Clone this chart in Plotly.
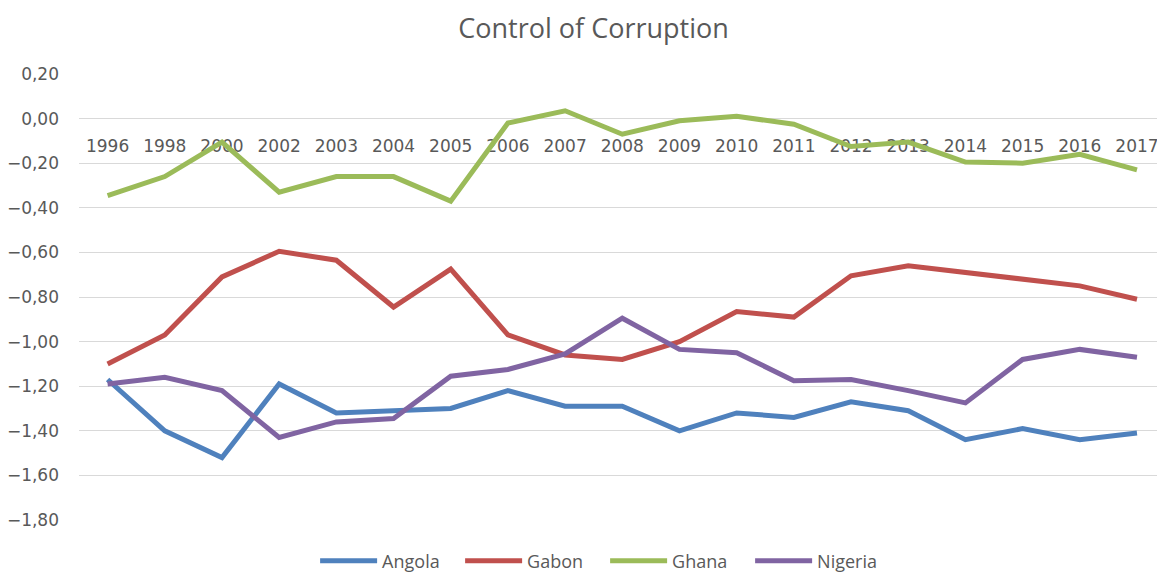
import plotly.graph_objects as go

years = ["1996", "1998", "2000", "2002", "2003", "2004", "2005", "2006", "2007", "2008",
         "2009", "2010", "2011", "2012", "2013", "2014", "2015", "2016", "2017"]

angola = [-1.17, -1.40, -1.52, -1.19, -1.32, -1.31, -1.30, -1.22, -1.29, -1.29,
          -1.40, -1.32, -1.34, -1.27, -1.31, -1.44, -1.39, -1.44, -1.41]
gabon = [-1.10, -0.97, -0.71, -0.595, -0.635, -0.845, -0.675, -0.97, -1.06, -1.08,
         -1.00, -0.865, -0.89, -0.705, -0.66, -0.69, -0.715, -0.75, -0.81]
ghana = [-0.345, -0.26, -0.105, -0.33, -0.26, -0.26, -0.37, -0.02, 0.035, -0.07,
         -0.01, 0.01, -0.025, -0.125, -0.105, -0.195, -0.20, -0.16, -0.23]
nigeria = [-1.19, -1.16, -1.22, -1.43, -1.36, -1.345, -1.155, -1.125, -1.055, -0.895,
           -1.035, -1.05, -1.175, -1.17, -1.22, -1.275, -1.08, -1.035, -1.07]

series = [("Angola", angola, "#4F81BD"), ("Gabon", gabon, "#C0504D"),
          ("Ghana", ghana, "#9BBB59"), ("Nigeria", nigeria, "#8064A2")]

fig = go.Figure()
for name, vals, col in series:
    fig.add_trace(go.Scatter(x=years, y=vals, name=name, mode="lines",
                             line=dict(color=col, width=5)))

fig.update_layout(
    width=1157, height=573,
    margin=dict(l=79, r=0, t=74, b=53),
    paper_bgcolor="white", plot_bgcolor="white",
    separators=",.",
    title=dict(text="Control of Corruption", x=0.513, xanchor="center", y=0.951, yanchor="middle",
               font=dict(family="Open Sans", size=27, color="#595959")),
    xaxis=dict(type="category", range=[-0.5, 18.35], anchor="free", position=0.9,
               showgrid=False, showline=False, zeroline=False, ticks="",
               ticklabelstandoff=15,
               tickfont=dict(family="DejaVu Sans", size=17, color="#595959"),
               layer="below traces", automargin=False),
    yaxis=dict(range=[-1.8, 0.2], dtick=0.2, tickformat=".2f", showgrid=True,
               gridcolor="#D9D9D9", gridwidth=1, zeroline=False, showline=False,
               ticks="", ticklabelstandoff=19,
               tickfont=dict(family="DejaVu Sans", size=17, color="#595959"),
               automargin=False),
    legend=dict(orientation="h", xref="container", x=0.523, xanchor="center",
                yref="container", y=0.021, yanchor="middle",
                font=dict(family="Open Sans", size=18, color="#595959"),
                itemwidth=57, entrywidth=73, traceorder="normal"),
)

fig.write_html("out.html", config={"displayModeBar": False},
               post_script="document.body.style.margin='0';document.body.style.overflow='hidden';")
